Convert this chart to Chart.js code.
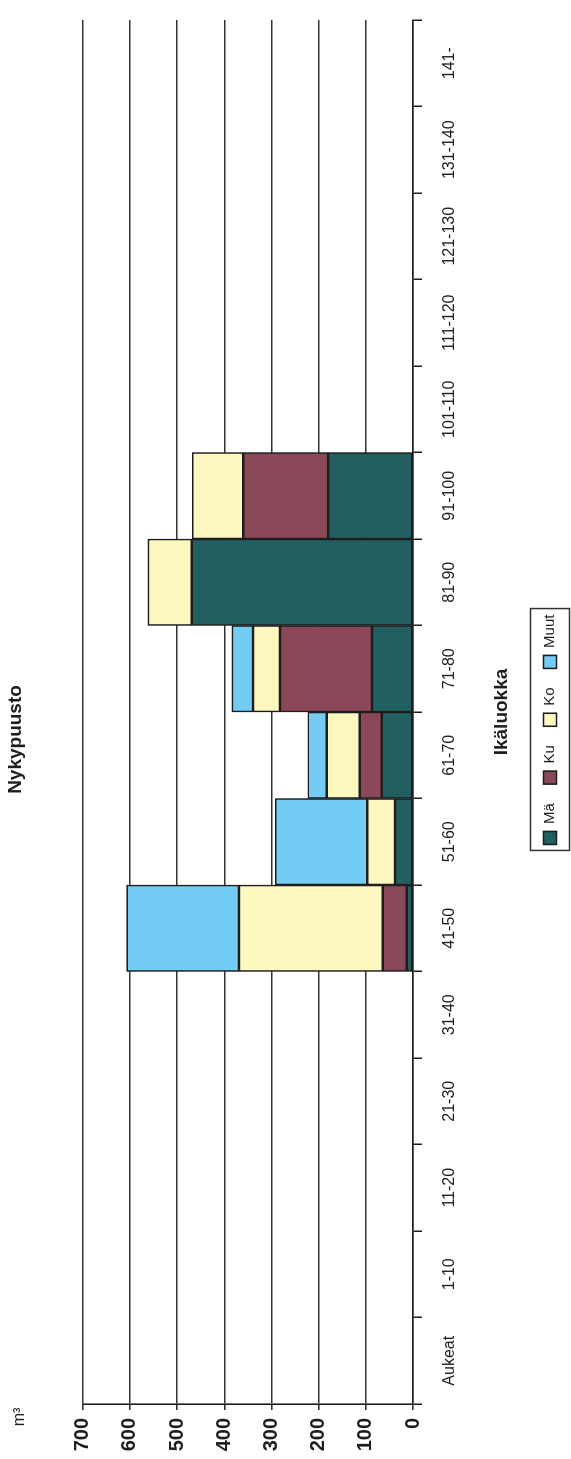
<!DOCTYPE html>
<html>
<head>
<meta charset="utf-8">
<script src="https://cdn.jsdelivr.net/npm/chart.js@4.4.1/dist/chart.umd.min.js"></script>
<style>
  html, body { margin: 0; padding: 0; background: #fff; overflow: hidden; }
  /* chart is drawn upright, then turned a quarter to the left like the scan */
  #wrap {
    position: absolute; left: 0; top: 0;
    width: 1459px; height: 571px;
    transform-origin: 0 0;
    transform: translate(0, 1459px) rotate(-90deg);
  }
</style>
</head>
<body>
<div id="wrap"><canvas id="chart" width="1459" height="571"></canvas></div>
<script>
// --- data (m3 by age class) ---
const ageClasses = ['Aukeat', '1-10', '11-20', '21-30', '31-40', '41-50', '51-60', '61-70',
                    '71-80', '81-90', '91-100', '101-110', '111-120', '121-130', '131-140', '141-'];
const maeValues  = [0, 0, 0, 0, 0, 13, 38, 66, 87, 469, 180, 0, 0, 0, 0, 0];
const kuValues   = [0, 0, 0, 0, 0, 51, 0, 47, 195, 0, 180, 0, 0, 0, 0, 0];
const koValues   = [0, 0, 0, 0, 0, 305, 59, 70, 57, 93, 108, 0, 0, 0, 0, 0];
const muutValues = [0, 0, 0, 0, 0, 238, 195, 40, 45, 0, 0, 0, 0, 0, 0, 0];
const seriesNames = ['Mä', 'Ku', 'Ko', 'Muut'];
const valueTicks = [0, 100, 200, 300, 400, 500, 600, 700];

const colors = ['#215f60', '#8a4858', '#fcf8bf', '#72ccf3'];
const ink = '#1e1e1e';

Chart.defaults.font.family = '"Liberation Sans", Arial, sans-serif';
Chart.defaults.color = ink;

const makeSet = (label, data, i) => ({
    label, data,
    backgroundColor: colors[i],
    borderColor: ink,
    borderWidth: 1.6,
    borderSkipped: false,
    barPercentage: 1,
    categoryPercentage: 1
});

// legend nudge + frame round it, and the "m³" unit label
const LEGEND_SHIFT = 10;
const extras = {
    id: 'extras',
    afterUpdate(chart) {
        const l = chart.legend;
        l.left += LEGEND_SHIFT;
        l.right += LEGEND_SHIFT;
        (l.legendHitBoxes || []).forEach(b => { b.left += LEGEND_SHIFT; });
    },
    afterDraw(chart) {
        const ctx = chart.ctx;
        const boxes = chart.legend.legendHitBoxes;
        if (boxes && boxes.length) {
            const left = Math.min(...boxes.map(b => b.left));
            const right = Math.max(...boxes.map(b => b.left + b.width));
            const top = Math.min(...boxes.map(b => b.top));
            const bottom = Math.max(...boxes.map(b => b.top + b.height));
            ctx.save();
            ctx.strokeStyle = '#333';
            ctx.lineWidth = 1.5;
            ctx.strokeRect(left - 6, top - 12, right - left + 12, bottom - top + 24);
            ctx.restore();
        }
        ctx.save();
        ctx.fillStyle = ink;
        ctx.font = '16px "Liberation Sans", Arial, sans-serif';
        ctx.textAlign = 'center';
        ctx.textBaseline = 'middle';
        ctx.fillText('m³', 42, 20);
        ctx.restore();
    }
};

new Chart(document.getElementById('chart'), {
    type: 'bar',
    data: {
        labels: ageClasses,
        datasets: [
            makeSet(seriesNames[0], maeValues, 0),
            makeSet(seriesNames[1], kuValues, 1),
            makeSet(seriesNames[2], koValues, 2),
            makeSet(seriesNames[3], muutValues, 3)
        ]
    },
    options: {
        responsive: false,
        animation: false,
        layout: { padding: { left: 0, right: 20, top: 0, bottom: 3.5 } },
        plugins: {
            title: {
                display: true,
                text: 'Nykypuusto',
                font: { size: 19, weight: 'bold' },
                padding: { top: 4, bottom: 56 }
            },
            legend: {
                position: 'bottom',
                labels: {
                    boxWidth: 13, boxHeight: 13,
                    padding: 19,
                    font: { size: 15 }
                }
            },
            tooltip: { enabled: false }
        },
        scales: {
            x: {
                stacked: true,
                grid: { drawOnChartArea: false, tickLength: 9, color: ink, lineWidth: 1.5 },
                border: { color: ink, width: 1.6 },
                ticks: { font: { size: 16 }, padding: 18, maxRotation: 0, autoSkip: false },
                title: {
                    display: true,
                    text: 'Ikäluokka',
                    font: { size: 19, weight: 'bold' },
                    padding: { top: 0, bottom: 10 }
                },
                afterFit: s => { s.height = 110.5; }
            },
            y: {
                stacked: true,
                min: valueTicks[0],
                max: valueTicks[valueTicks.length - 1],
                afterBuildTicks: s => { s.ticks = valueTicks.map(v => ({ value: v })); },
                grid: { color: '#333', lineWidth: 1.6, tickLength: 6 },
                border: { color: ink, width: 1.6 },
                ticks: { font: { size: 20, weight: 'bold' }, padding: 8 },
                afterFit: s => { s.width = 55; }
            }
        }
    },
    plugins: [extras]
});
</script>
</body>
</html>
